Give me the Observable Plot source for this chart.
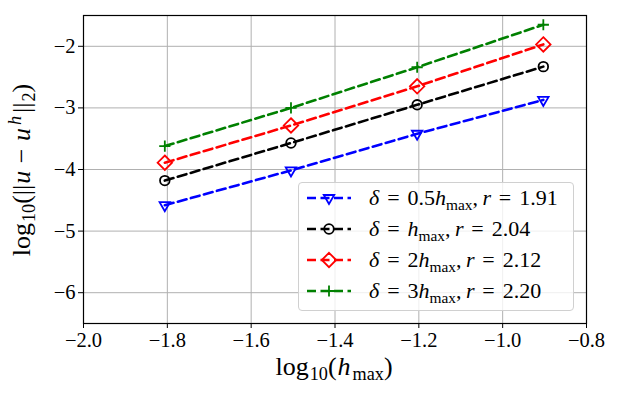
<!DOCTYPE html>
<html><head><meta charset="utf-8">
<script src="https://cdn.jsdelivr.net/npm/d3@7"></script>
<script src="https://cdn.jsdelivr.net/npm/@observablehq/plot@0.6"></script>
<style>
body{margin:0;background:#fff;}
#wrap{position:relative;width:619px;height:396px;font-family:"Liberation Serif",serif;color:#000;}
#wrap svg.plot text{font-family:"Liberation Serif",serif;}
.lbl{position:absolute;font-size:26px;white-space:nowrap;line-height:1;}
.lbl i{margin:0 1px 0 1px;}
.lbl sub{font-size:70%;vertical-align:-0.3em;line-height:0;margin-left:1px;}
.lbl sup{font-size:70%;vertical-align:0.5em;line-height:0;margin-left:1px;margin-right:2px;}
#ylab{left:22px;top:170px;transform:translate(-50%,-50%) rotate(-90deg);}
#xlab{left:334px;top:367px;transform:translate(-50%,-50%);}
#legend{position:absolute;left:298px;top:182px;width:276px;height:129px;box-sizing:border-box;
  border:1px solid #d0d0d0;border-radius:4px;background:rgba(255,255,255,0.8);}
.row{position:absolute;left:0;height:30px;display:flex;align-items:center;font-size:22px;white-space:nowrap;}
.row svg{margin-left:8px;margin-right:18px;}
.row sub{font-size:70%;vertical-align:-0.3em;line-height:0;}
.row .eq{margin:0 0.36em;}
</style></head><body><div id="wrap"></div><script>
// data
const logH = [-1.806, -1.505, -1.204, -0.903];
const errHalf = [-4.58, -4.015, -3.42, -2.87];
const errOne = [-4.18, -3.57, -2.95, -2.33];
const errTwo = [-3.89, -3.285, -2.65, -1.97];
const errThree = [-3.62, -3.00, -2.34, -1.65];
const deltaLabels = ["0.5", "", "2", "3"];
const rates = ["1.91", "2.04", "2.12", "2.20"];
const xTicks = [-2.0, -1.8, -1.6, -1.4, -1.2, -1.0, -0.8];
const yTicks = [-6, -5, -4, -3, -2];

// styles
const colors = ["#0000ff", "#000000", "#ff0000", "#008000"];
const symbols = ["triangle2", "circle", "diamond2", "plus"];
const rotations = [180, 0, 0, 0];
const radii = [5, 4.8, 6.5, 3.7];

const seriesVals = [errHalf, errOne, errTwo, errThree];
const rows = seriesVals.flatMap((vals, s) => vals.map((v, i) => ({s, x: logH[i], y: v})));

const fmtMinus = d => (d < 0 ? "\u2212" : "") + Math.abs(d);
const marks = [
  Plot.ruleX(xTicks, {stroke: "#b0b0b0", strokeWidth: 1}),
  Plot.ruleY(yTicks, {stroke: "#b0b0b0", strokeWidth: 1}),
];
seriesVals.forEach((vals, s) => {
  const d = rows.filter(r => r.s === s);
  marks.push(Plot.line(d, {x: "x", y: "y", stroke: colors[s], strokeWidth: 2.6, strokeDasharray: "9,4.5"}));
  marks.push(Plot.dot(d, {x: "x", y: "y", stroke: colors[s], fill: "none", strokeWidth: 1.8,
    symbol: symbols[s], r: radii[s], rotate: rotations[s]}));
});
marks.push(Plot.frame({stroke: "#000", strokeWidth: 1.2}));
marks.push(Plot.axisX(xTicks, {tickSize: 5, tickPadding: 4, fontSize: 20.5, tickFormat: d => (d < 0 ? "\u2212" : "") + Math.abs(d).toFixed(1), label: null}));
marks.push(Plot.axisY(yTicks, {tickSize: 5, tickPadding: 3, fontSize: 20.5, tickFormat: fmtMinus, label: null}));

const plot = Plot.plot({
  width: 619, height: 396,
  marginLeft: 83, marginRight: 33, marginTop: 15, marginBottom: 73,
  x: {domain: [-2.0, -0.8]},
  y: {domain: [-6.5, -1.5]},
  style: {background: "transparent", color: "#000", fontFamily: "Liberation Serif, serif"},
  marks
});
plot.classList.add("plot");
const wrap = document.getElementById("wrap");
wrap.appendChild(plot);

const ylab = document.createElement("div");
ylab.className = "lbl"; ylab.id = "ylab";
ylab.innerHTML = "log<sub>10</sub>(||<i>u</i> \u2212 <i>u</i><sup><i>h</i></sup>||<sub>2</sub>)";
wrap.appendChild(ylab);
const xlab = document.createElement("div");
xlab.className = "lbl"; xlab.id = "xlab";
xlab.innerHTML = "log<sub>10</sub>(<i>h</i><sub>max</sub>)";
wrap.appendChild(xlab);

const leg = document.createElement("div");
leg.id = "legend";
wrap.appendChild(leg);
rates.forEach((r, s) => {
  const row = document.createElement("div");
  row.className = "row";
  row.style.top = (0 + s * 31) + "px";
  const svg = d3.create("svg").attr("width", 44).attr("height", 20);
  svg.append("line").attr("x1", 0).attr("x2", 44).attr("y1", 10).attr("y2", 10)
    .attr("stroke", colors[s]).attr("stroke-width", 2.6).attr("stroke-dasharray", "9,4.5").attr("stroke-dashoffset", 0);
  const symMap = {triangle2: d3.symbolTriangle2, circle: d3.symbolCircle, diamond2: d3.symbolDiamond2, plus: d3.symbolPlus};
  svg.append("path").attr("d", d3.symbol(symMap[symbols[s]], Math.PI * radii[s] * radii[s])())
    .attr("transform", `translate(22,10) rotate(${rotations[s]})`)
    .attr("fill", "none").attr("stroke", colors[s]).attr("stroke-width", 1.8);
  row.appendChild(svg.node());
  const t = document.createElement("span");
  t.innerHTML = `<i>\u03b4</i><span class="eq">=</span>${deltaLabels[s]}<i>h</i><sub>max</sub>,&thinsp;<i>r</i><span class="eq">=</span>${r}`;
  row.appendChild(t);
  leg.appendChild(row);
});
</script></body></html>
